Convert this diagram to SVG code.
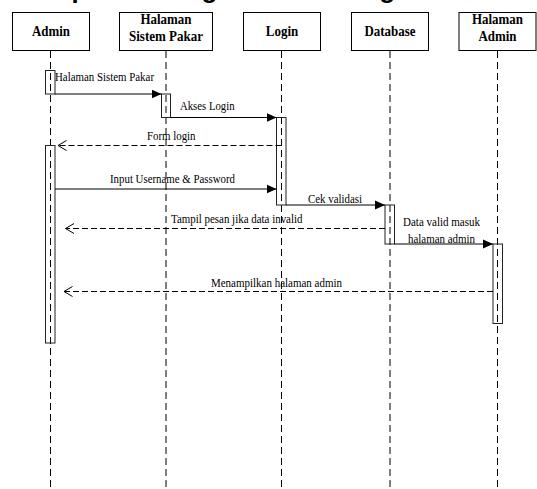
<svg xmlns="http://www.w3.org/2000/svg" width="537" height="489" viewBox="0 0 537 489">
  <style>
    .head { fill: #fff; stroke: #000; stroke-width: 1; }
    .htxt { font-family: "Liberation Serif", "Times New Roman", serif; font-weight: bold; font-size: 15px; fill: #000; text-anchor: middle; }
    .life { stroke: #000; stroke-width: 1; stroke-dasharray: 7 4; fill: none; }
    .act { fill: none; stroke: #222; stroke-width: 1; }
    .msg { stroke: #000; stroke-width: 1; fill: none; }
    .ret { stroke: #000; stroke-width: 1; fill: none; stroke-dasharray: 6 3; }
    .mtxt { font-family: "Liberation Serif", "Times New Roman", serif; font-size: 12px; fill: #000; }
    .title { font-family: "Liberation Sans", Arial, sans-serif; font-weight: bold; font-size: 26px; fill: #000; }
  </style>
  <defs>
    <!-- filled head for calls -->
    <marker id="solid" markerUnits="userSpaceOnUse" markerWidth="10" markerHeight="10" viewBox="0 0 10 10" refX="10" refY="5" orient="auto">
      <path d="M0,0.5 L10,5 L0,9.5 Z" fill="#000"/>
    </marker>
    <!-- open head for replies -->
    <marker id="open" markerUnits="userSpaceOnUse" markerWidth="12" markerHeight="12" viewBox="0 0 12 12" refX="10.5" refY="6" orient="auto">
      <path d="M2,1 L10.5,6 L2,11" fill="none" stroke="#000" stroke-width="1"/>
    </marker>
  </defs>

  <text class="title" x="31" y="-2">Sequence Diagram Menu Login</text>

  <!-- lifelines -->
  <g id="lifelines">
    <line class="life" x1="50.5" y1="51" x2="50.5" y2="489"/>
    <line class="life" x1="166" y1="51" x2="166" y2="489"/>
    <line class="life" x1="281.5" y1="51" x2="281.5" y2="489"/>
    <line class="life" x1="390" y1="51" x2="390" y2="489"/>
    <line class="life" x1="497.5" y1="51" x2="497.5" y2="489"/>
  </g>

  <g id="admin">
    <rect class="head" x="12.5" y="12.5" width="77" height="38"/>
    <text class="htxt" x="51" y="36" textLength="38" lengthAdjust="spacingAndGlyphs">Admin</text>
    <rect class="act" x="45.5" y="70.5" width="9.5" height="23.5"/>
    <rect class="act" x="45.5" y="145.5" width="9.5" height="197.5"/>
  </g>

  <g id="halaman-sistem-pakar">
    <rect class="head" x="119.5" y="12.5" width="93" height="38"/>
    <text class="htxt" x="166" y="24" textLength="51" lengthAdjust="spacingAndGlyphs">Halaman</text>
    <text class="htxt" x="166" y="41" textLength="74" lengthAdjust="spacingAndGlyphs">Sistem Pakar</text>
    <rect class="act" x="161.5" y="94" width="9" height="23.5"/>
  </g>

  <g id="login">
    <rect class="head" x="243.5" y="12.5" width="77" height="38"/>
    <text class="htxt" x="282" y="36" textLength="32.5" lengthAdjust="spacingAndGlyphs">Login</text>
    <rect class="act" x="276.5" y="117.5" width="9.5" height="87.5"/>
  </g>

  <g id="database">
    <rect class="head" x="351.5" y="12.5" width="77" height="38"/>
    <text class="htxt" x="390" y="36" textLength="51" lengthAdjust="spacingAndGlyphs">Database</text>
    <rect class="act" x="385" y="205" width="9.5" height="39"/>
  </g>

  <g id="halaman-admin">
    <rect class="head" x="459" y="12.5" width="77" height="38"/>
    <text class="htxt" x="497.5" y="24" textLength="51" lengthAdjust="spacingAndGlyphs">Halaman</text>
    <text class="htxt" x="497.5" y="41" textLength="38" lengthAdjust="spacingAndGlyphs">Admin</text>
    <rect class="act" x="493" y="244" width="9.5" height="79.5"/>
  </g>

  <!-- messages -->
  <g id="connectors">
    <line class="msg" x1="55" y1="94" x2="161.5" y2="94" marker-end="url(#solid)"/>
    <text class="mtxt" x="55" y="81" textLength="99" lengthAdjust="spacingAndGlyphs">Halaman Sistem Pakar</text>

    <line class="msg" x1="170.5" y1="117.5" x2="276.5" y2="117.5" marker-end="url(#solid)"/>
    <text class="mtxt" x="180" y="110" textLength="54.5" lengthAdjust="spacingAndGlyphs">Akses Login</text>

    <line class="ret" x1="281.5" y1="145.5" x2="58" y2="145.5" marker-end="url(#open)"/>
    <text class="mtxt" x="147" y="140" textLength="48.5" lengthAdjust="spacingAndGlyphs">Form login</text>

    <line class="msg" x1="55" y1="189" x2="276.5" y2="189" marker-end="url(#solid)"/>
    <text class="mtxt" x="110" y="183" textLength="125" lengthAdjust="spacingAndGlyphs">Input Username &amp; Password</text>

    <line class="msg" x1="286" y1="205" x2="385" y2="205" marker-end="url(#solid)"/>
    <text class="mtxt" x="308" y="203" textLength="54" lengthAdjust="spacingAndGlyphs">Cek validasi</text>

    <line class="ret" x1="385" y1="228.5" x2="65.5" y2="228.5" marker-end="url(#open)"/>
    <text class="mtxt" x="171" y="223" textLength="131.5" lengthAdjust="spacingAndGlyphs">Tampil pesan jika data invalid</text>

    <line class="msg" x1="394.5" y1="244" x2="493" y2="244" marker-end="url(#solid)"/>
    <text class="mtxt" x="403" y="226" textLength="77" lengthAdjust="spacingAndGlyphs">Data valid masuk</text>
    <text class="mtxt" x="408" y="242.5" textLength="67" lengthAdjust="spacingAndGlyphs">halaman admin</text>

    <line class="ret" x1="493" y1="291.5" x2="64" y2="291.5" marker-end="url(#open)"/>
    <text class="mtxt" x="211" y="287" textLength="131" lengthAdjust="spacingAndGlyphs">Menampilkan halaman admin</text>
  </g>
</svg>
